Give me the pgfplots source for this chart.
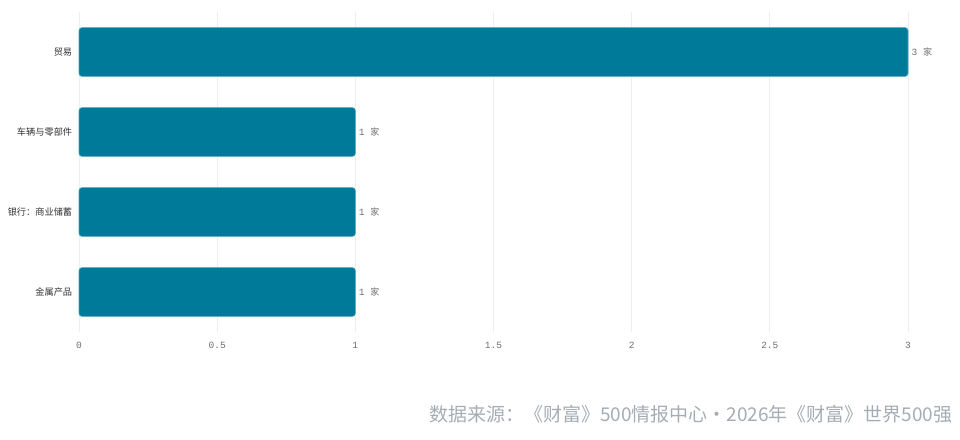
\documentclass[border=0pt]{standalone}
\usepackage{fontspec}
\setmainfont{Noto Sans CJK SC}
\setmonofont{Liberation Mono}
\newfontfamily\cjk{Noto Sans CJK SC}
\usepackage{pgfplots}
\pgfplotsset{compat=1.18}
\definecolor{barblue}{RGB}{0,122,153}
\definecolor{baredge}{RGB}{70,160,185}
\definecolor{gridgray}{RGB}{238,238,238}
\definecolor{ticktext}{RGB}{110,110,110}
\definecolor{cattext}{RGB}{50,50,50}
\definecolor{srcgray}{RGB}{165,172,180}
\begin{document}
\begin{tikzpicture}[x=1pt,y=1pt]
\path[use as bounding box] (0,0) rectangle (960,439);
\begin{axis}[
  at={(79pt,107pt)}, anchor=south west,
  scale only axis,
  width=829pt, height=320pt,
  xbar, bar width=0.61,
  xmin=0, xmax=3,
  ymin=-0.5, ymax=3.5,
  xtick={0,0.5,1,1.5,2,2.5,3},
  ytick={0,1,2,3},
  yticklabels={金属产品,银行：商业储蓄,车辆与零部件,贸易},
  /pgf/number format/assume math mode=true,
  xticklabel style={font=\ttfamily\fontsize{9.5}{10}\selectfont, text=ticktext, yshift=-6.5pt},
  yticklabel style={font=\cjk\fontsize{9.2}{10}\selectfont, text=cattext, xshift=1pt},
  xmajorgrids, grid style={gridgray, line width=0.8pt},
  axis line style={draw=none},
  major tick style={draw=none},
  nodes near coords={{\ttfamily\fontsize{9.5}{10}\selectfont\pgfmathprintnumber{\pgfplotspointmeta}\ }{\cjk\fontsize{9}{9}\selectfont 家}},
  nodes near coords style={text=ticktext, anchor=west, xshift=0pt},
  point meta=explicit,
  clip=false,
]
\draw[gridgray, line width=0.8pt] (axis cs:0,-0.5) -- (axis cs:0,3.5);
\addplot[fill=barblue, draw=baredge, line width=0.6pt, rounded corners=3pt]
  coordinates {(1,0) [1] (1,1) [1] (1,2) [1] (3,3) [3]};
\end{axis}
\node[anchor=east, font=\cjk\fontsize{19}{21}\selectfont, text=srcgray] at (956,25)
  {数据来源：《财富》500情报中心·2026年《财富》世界500强};
\end{tikzpicture}
\end{document}
